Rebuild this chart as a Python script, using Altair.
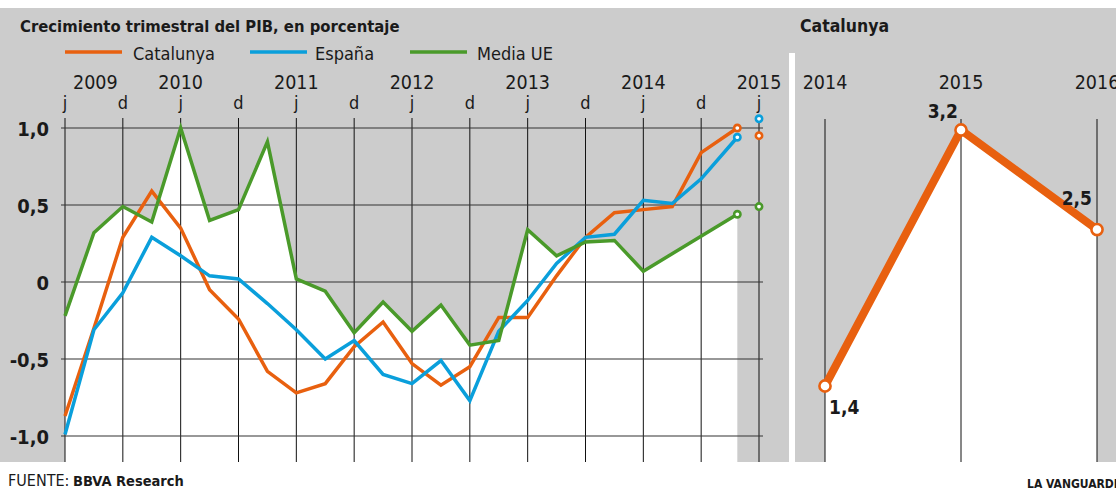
import altair as alt
import pandas as pd

# ---------------- data ----------------
quarter_idx = [0, 1, 2, 3, 4, 5, 6, 7, 8, 9, 10, 11, 12, 13, 14, 15, 16, 17, 18, 19, 20, 21, 22, 23.25]
catalunya = [-0.87, -0.30, 0.29, 0.59, 0.35, -0.05, -0.24, -0.58, -0.72, -0.66, -0.42, -0.26,
             -0.53, -0.67, -0.55, -0.23, -0.23, 0.04, 0.29, 0.45, 0.47, 0.49, 0.84, 1.00]
espana = [-0.99, -0.31, -0.07, 0.29, 0.17, 0.04, 0.02, -0.14, -0.31, -0.50, -0.38, -0.60,
          -0.66, -0.51, -0.77, -0.32, -0.12, 0.12, 0.29, 0.31, 0.53, 0.51, 0.67, 0.94]
media_ue = [-0.22, 0.32, 0.49, 0.39, 1.00, 0.40, 0.47, 0.91, 0.02, -0.06, -0.33, -0.13,
            -0.32, -0.15, -0.41, -0.38, 0.34, 0.17, 0.26, 0.27, 0.07, None, None, 0.44]
forecast_idx = 24
forecast = {"Catalunya": 0.95, "España": 1.06, "Media UE": 0.49}

tick_idx = [0, 2, 4, 6, 8, 10, 12, 14, 16, 18, 20, 22, 24]
tick_labels = ["j", "d", "j", "d", "j", "d", "j", "d", "j", "d", "j", "d", "j"]
year_idx = [0, 4, 8, 12, 16, 20, 24]
year_labels = ["2009", "2010", "2011", "2012", "2013", "2014", "2015"]
y_ticks = [1.0, 0.5, 0.0, -0.5, -1.0]
y_tick_labels = ["1,0", "0,5", "0", "-0,5", "-1,0"]

annual_years = [2014, 2015, 2016]
annual_cat = [1.4, 3.2, 2.5]
annual_labels = ["1,4", "3,2", "2,5"]

# ---------------- style ----------------
ORANGE = "#E8600F"
BLUE = "#0A9FDB"
GREEN = "#4A9A2A"
GRAY = "#CCCCCC"
INK = "#1A1A1A"
FONT = "Liberation Sans Narrow, DejaVu Sans Condensed, Liberation Sans"

L_YMIN = -1.169   # bottom edge of the left plot
R_YMIN = 0.866    # bottom edge of the right plot


def Xl(f):
    return alt.X(f"{f}:Q", scale=alt.Scale(domain=[0, 24], range=[65, 759], zero=False, nice=False), axis=None)


def Yl(f):
    return alt.Y(f"{f}:Q", scale=alt.Scale(domain=[-1, 1], range=[436, 128], zero=False, nice=False), axis=None)


def Xr(f):
    return alt.X(f"{f}:Q", scale=alt.Scale(domain=[2014, 2016], range=[825, 1097], zero=False, nice=False), axis=None)


def Yr(f):
    return alt.Y(f"{f}:Q", scale=alt.Scale(domain=[1.4, 3.2], range=[386, 130], zero=False, nice=False), axis=None)


one = pd.DataFrame({"k": [0]})


def series_df(vals):
    return pd.DataFrame([{"t": t, "v": v} for t, v in zip(quarter_idx, vals) if v is not None])


cat_df = series_df(catalunya)
esp_df = series_df(espana)
ue_df = series_df(media_ue)
colors = {"Catalunya": ORANGE, "España": BLUE, "Media UE": GREEN}
dfs = {"Catalunya": cat_df, "España": esp_df, "Media UE": ue_df}

layers = []

# backgrounds
layers.append(alt.Chart(one).mark_rect(color=GRAY).encode(
    x=alt.value(0), x2=alt.value(1116), y=alt.value(8), y2=alt.value(462)))
layers.append(alt.Chart(one).mark_rect(color="white").encode(
    x=alt.value(789), x2=alt.value(795), y=alt.value(53), y2=alt.value(462)))

# white areas
layers.append(alt.Chart(ue_df).mark_area(color="white", opacity=1).encode(
    x=Xl("t"), y=Yl("v"), y2=alt.datum(L_YMIN)))
ann_df = pd.DataFrame({"year": annual_years, "v": annual_cat, "lab": annual_labels})
layers.append(alt.Chart(ann_df).mark_area(color="white", opacity=1).encode(
    x=Xr("year"), y=Yr("v"), y2=alt.datum(R_YMIN)))

# grids
tick_df = pd.DataFrame({"t": tick_idx, "lab": tick_labels})
layers.append(alt.Chart(tick_df).mark_rule(color="#111111", strokeWidth=1).encode(
    x=Xl("t"), y=alt.value(118), y2=alt.value(462)))
ytick_df = pd.DataFrame({"v": y_ticks, "lab": y_tick_labels})
layers.append(alt.Chart(ytick_df).mark_rule(color="#333333", strokeWidth=1.2).encode(
    y=Yl("v"), x=alt.value(61), x2=alt.value(763)))
layers.append(alt.Chart(ann_df).mark_rule(color="#111111", strokeWidth=1).encode(
    x=Xr("year"), y=alt.value(119), y2=alt.value(462)))

# lines
for name in ["Catalunya", "España", "Media UE"]:
    layers.append(alt.Chart(dfs[name]).mark_line(color=colors[name], strokeWidth=3.5, strokeJoin="miter").encode(
        x=Xl("t"), y=Yl("v")))

# end markers and forecasts
for name in ["Catalunya", "España", "Media UE"]:
    d = dfs[name]
    last = d.iloc[[-1]]
    pts = pd.concat([last, pd.DataFrame({"t": [forecast_idx], "v": [forecast[name]]})])
    layers.append(alt.Chart(pts).mark_point(shape="circle", filled=True, fill="white", stroke=colors[name],
                                            strokeWidth=2.6, size=40, opacity=1).encode(
        x=Xl("t"), y=Yl("v")))

# right panel line
layers.append(alt.Chart(ann_df).mark_line(color=ORANGE, strokeWidth=8).encode(x=Xr("year"), y=Yr("v")))
layers.append(alt.Chart(ann_df).mark_point(shape="circle", filled=True, fill="white", stroke=ORANGE,
                                           strokeWidth=2.6, size=125, opacity=1).encode(x=Xr("year"), y=Yr("v")))

# right panel labels
lab_specs = [(0, "left", 4, 22), (1, "right", -3, -18), (2, "right", -5, -31)]
for i, al, dx, dy in lab_specs:
    layers.append(alt.Chart(ann_df.iloc[[i]]).mark_text(
        align=al, baseline="middle", dx=dx, dy=dy, font=FONT, fontSize=19, fontWeight="bold", color=INK).encode(
        x=Xr("year"), y=Yr("v"), text="lab:N"))

# axis-like labels (left)
layers.append(alt.Chart(tick_df).mark_text(
    align="center", baseline="alphabetic", font=FONT, fontSize=18, color=INK).encode(
    x=Xl("t"), y=alt.value(109), text="lab:N"))
year_df = pd.DataFrame({"t": year_idx, "lab": year_labels})
layers.append(alt.Chart(year_df.iloc[[0]]).mark_text(
    align="left", baseline="alphabetic", dx=8, font=FONT, fontSize=19.5, color=INK).encode(
    x=Xl("t"), y=alt.value(89), text="lab:N"))
layers.append(alt.Chart(year_df.iloc[1:]).mark_text(
    align="center", baseline="alphabetic", font=FONT, fontSize=19.5, color=INK).encode(
    x=Xl("t"), y=alt.value(89), text="lab:N"))
layers.append(alt.Chart(ytick_df).mark_text(
    align="right", baseline="middle", dy=2, font=FONT, fontSize=20, fontWeight="bold", color=INK).encode(
    x=alt.value(49), y=Yl("v"), text="lab:N"))

# right years
ry_df = pd.DataFrame({"year": annual_years, "lab": [str(y) for y in annual_years]})
layers.append(alt.Chart(ry_df).mark_text(
    align="center", baseline="alphabetic", font=FONT, fontSize=19.5, color=INK).encode(
    x=Xr("year"), y=alt.value(89), text="lab:N"))


def txt(s, x, y, size, bold=False, align="left"):
    return alt.Chart(one).mark_text(text=s, align=align, baseline="alphabetic", font=FONT, fontSize=size,
                                    fontWeight="bold" if bold else "normal", color=INK).encode(
        x=alt.value(x), y=alt.value(y))


# titles
layers.append(txt("Crecimiento trimestral del PIB, en porcentaje", 20, 32, 16.5, bold=True))
layers.append(txt("Catalunya", 800, 32, 17.5, bold=True))

# legend
leg = [("Catalunya", ORANGE, 65, 122, 133), ("España", BLUE, 250, 307, 315), ("Media UE", GREEN, 410, 467, 477)]
for name, c, x1, x2, tx in leg:
    layers.append(alt.Chart(one).mark_rule(color=c, strokeWidth=3.5).encode(
        x=alt.value(x1), x2=alt.value(x2), y=alt.value(52)))
    layers.append(txt(name, tx, 60, 18))

# footer
layers.append(txt("FUENTE:", 8, 486, 16))
layers.append(txt("BBVA Research", 73, 486, 14.5, bold=True))
layers.append(txt("LA VANGUARDIA", 1027, 488, 12, bold=True))

chart = alt.layer(*layers).resolve_scale(x="independent", y="independent").properties(
    width=1116, height=491, autosize=alt.AutoSizeParams(type="none"), padding=0,
    background="white"
).configure_view(stroke=None)

chart.save("out.html", embed_options={"renderer": "svg", "actions": False})
